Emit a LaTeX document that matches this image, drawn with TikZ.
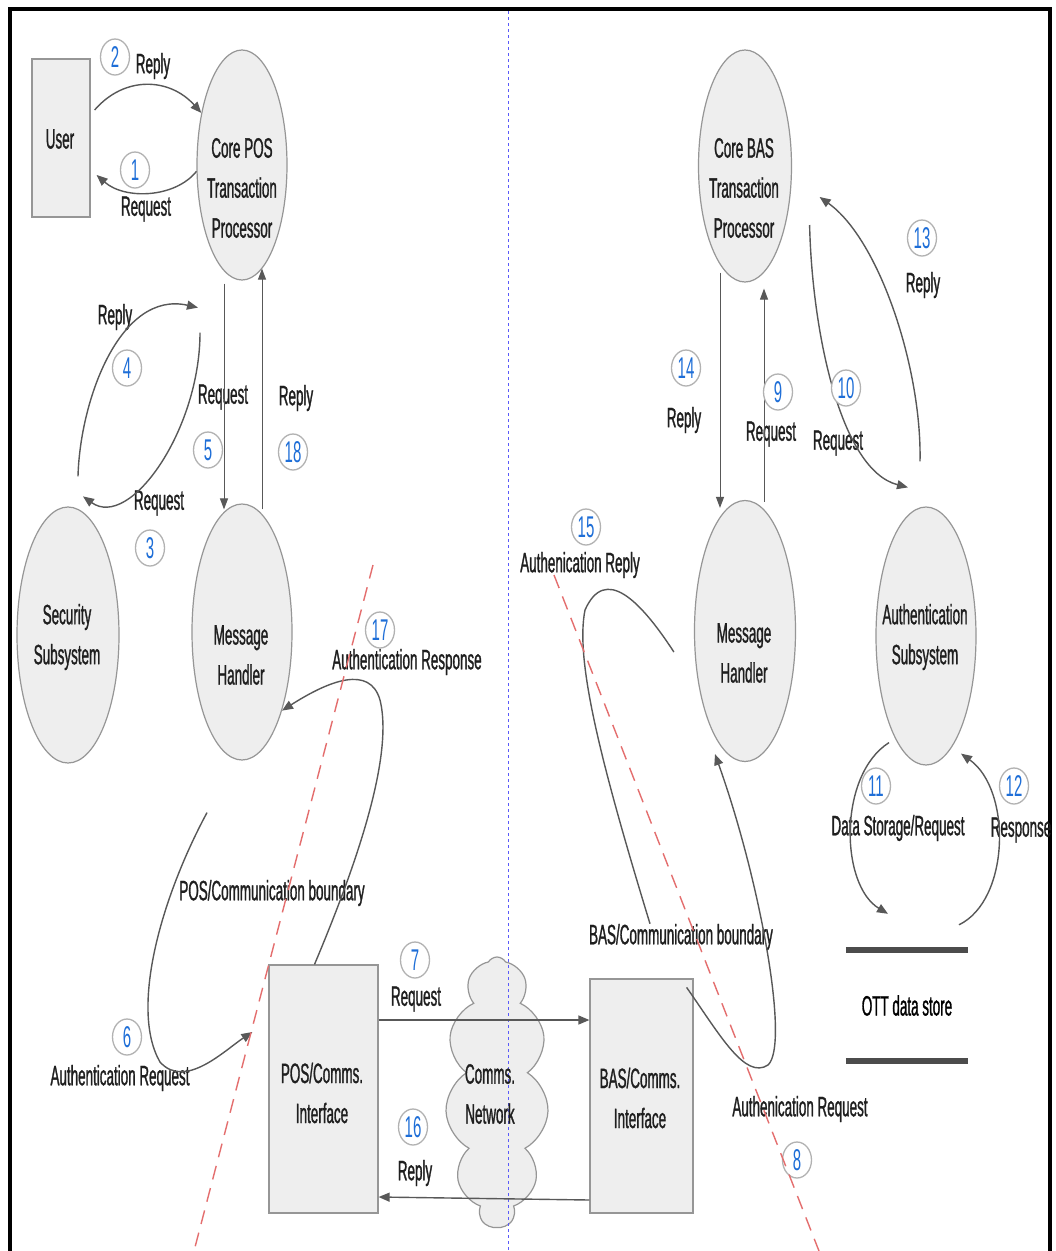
\documentclass[tikz,border=0pt]{standalone}
\usepackage{fontspec}
\setmainfont{Liberation Sans}[FakeStretch=0.48, FakeBold=1]
\newfontfamily\numfam{Liberation Sans}[FakeStretch=0.5]
\usetikzlibrary{arrows.meta,shapes.geometric,shapes.symbols}
\definecolor{linegray}{RGB}{88,88,88}
\definecolor{shapefill}{RGB}{238,238,238}
\definecolor{shapeedge}{RGB}{150,150,150}
\definecolor{numblue}{RGB}{30,110,215}
\definecolor{bounddash}{RGB}{228,110,110}
\definecolor{dividerblue}{RGB}{90,90,250}
\newcommand\lblfont{\fontsize{28pt}{40pt}\selectfont}
\newcommand\numfont{\numfam\fontsize{30pt}{32pt}\selectfont}

\begin{document}
\begin{tikzpicture}[x=1pt,y=-1pt,
  proc/.style={ellipse, draw=shapeedge, fill=shapefill, line width=1.2pt, inner sep=0pt},
  box/.style={rectangle, draw=shapeedge, fill=shapefill, line width=1.2pt, inner sep=0pt},
  lbl/.style={inner sep=0pt, font=\lblfont, text=black!88, align=center},
  seqno/.style={ellipse, draw=black!30, fill=white, line width=1.3pt, minimum width=29pt,
    minimum height=36pt, inner sep=0pt, font=\numfont, text=numblue},
  flow/.style={draw=linegray, line width=1.4pt, -{Triangle[length=11pt,width=9pt]}},
  thinflow/.style={draw=linegray, line width=1pt, -{Triangle[length=11pt,width=8pt]}},
  noarrow/.style={draw=linegray, line width=1.4pt},
  boundary/.style={draw=bounddash, line width=1.4pt, dash pattern=on 14pt off 9pt},
  storeline/.style={draw=black!70, line width=6pt}]

\useasboundingbox (0,0) rectangle (1056,1251);
\fill[white] (0,0) rectangle (1056,1251);

% outer frame (open at the bottom)
\draw[line width=4pt] (10,1251) -- (10,9) -- (1050,9) -- (1050,1251);

% processes
\node[proc, minimum width=90pt,  minimum height=230pt] (corepos)  at (242,165) {};
\node[proc, minimum width=102pt, minimum height=256pt] (security) at (68,635) {};
\node[proc, minimum width=100pt, minimum height=256pt] (mhpos)    at (242,632) {};
\node[proc, minimum width=93pt,  minimum height=232pt] (corebas)  at (745,166) {};
\node[proc, minimum width=101pt, minimum height=261pt] (mhbas)    at (745,631) {};
\node[proc, minimum width=100pt, minimum height=258pt] (authsub)  at (926,636) {};

% external entities and interfaces
\node[box, minimum width=58pt,  minimum height=158pt] (user)     at (61,138) {};
\node[box, minimum width=109pt, minimum height=248pt] (poscomms) at (323.5,1089) {};
\node[box, minimum width=103pt, minimum height=234pt] (bascomms) at (641.5,1096) {};
\node[cloud, cloud puffs=11, cloud puff arc=120, cloud ignores aspect, draw=shapeedge,
      fill=shapefill, line width=1.2pt, minimum width=103pt, minimum height=270pt,
      inner sep=0pt] (net) at (497,1092) {};

% data store
\node[inner sep=0pt, minimum width=122pt, minimum height=111pt, font=\lblfont] (ott) at (907,1005.5) {OTT data store};
\draw[storeline] (ott.north west) -- (ott.north east);
\draw[storeline] (ott.south west) -- (ott.south east);

% divider between the two sites
\draw[dividerblue, line width=1pt, dash pattern=on 3pt off 3pt] (508,11) -- (508,1251);

% shape texts
\node[lbl] (t-user)     at (60,139)  {User};
\node[lbl] (t-corepos)  at (242,188) {Core POS\\Transaction\\Processor};
\node[lbl] (t-security) at (67,637)  {Security\\Subsystem};
\node[lbl] (t-mhpos)    at (241,655) {Message\\Handler};
\node[lbl] (t-poscomms) at (322,1093) {POS/Comms.\\Interface};
\node[lbl] (t-net)      at (490,1094) {Comms.\\Network};
\node[lbl] (t-bascomms) at (640,1098) {BAS/Comms.\\Interface};
\node[lbl] (t-corebas)  at (744,188) {Core BAS\\Transaction\\Processor};
\node[lbl] (t-mhbas)    at (744,653) {Message\\Handler};
\node[lbl] (t-authsub)  at (925,637) {Authentication\\Subsystem};

% flow labels
\node[lbl] (l2)  at (153,66)   {Reply};
\node[lbl] (l1)  at (146,209)  {Request};
\node[lbl] (l4)  at (115,317)  {Reply};
\node[lbl] (l3)  at (159,503)  {Request};
\node[lbl] (l5)  at (223,397)  {Request};
\node[lbl] (l18) at (296,398)  {Reply};
\node[lbl] (l17) at (407,662)  {Authentication Response};
\node[lbl] (posbound) at (272,893) {POS/Communication boundary};
\node[lbl] (l6)  at (120,1078) {Authentication Request};
\node[lbl] (l7)  at (416,999)  {Request};
\node[lbl] (l16) at (415,1173) {Reply};
\node[lbl] (l8)  at (800,1109) {Authenication Request};
\node[lbl] (basbound) at (681,937) {BAS/Communication boundary};
\node[lbl] (l11) at (898,828)  {Data Storage/Request};
\node[lbl] (l12) at (1021,830) {Response};
\node[lbl] (l13) at (923,285)  {Reply};
\node[lbl] (l14) at (684,420)  {Reply};
\node[lbl] (l9)  at (771,434)  {Request};
\node[lbl] (l10) at (838,443)  {Request};
\node[lbl] (l15) at (580,565)  {Authenication Reply};

% user <-> core POS
\draw[flow] ([shift={(4pt,28pt)}]user.east) .. controls (125,75) and (170,78) .. (corepos.128);
\draw[flow] (corepos.188) .. controls (175,198) and (125,200) .. ([shift={(6pt,-37pt)}]user.east);

% core POS <-> security subsystem
\draw[flow] ([shift={(10pt,30pt)}]security.north) .. controls (80,400) and (120,290) .. ([shift={(-44pt,-27pt)}]corepos.south);
\draw[flow] ([shift={(-42pt,-52pt)}]corepos.south) .. controls (200,430) and (130,530) .. ([shift={(15pt,10pt)}]security.north);

% core POS <-> message handler
\draw[thinflow] ([shift={(-18pt,-3pt)}]corepos.south) -- ([shift={(-18pt,-6pt)}]mhpos.north);
\draw[thinflow] ([shift={(20pt,-6pt)}]mhpos.north) -- ([shift={(20pt,12pt)}]corepos.south);

% message handler <-> POS comms interface
\draw[flow] ([xshift=-9pt]poscomms.north) .. controls (350,880) and (395,760) .. (380,700)
            .. controls (370,665) and (330,680) .. (mhpos.-63);
\draw[flow] ([shift={(-35pt,-52pt)}]mhpos.south) .. controls (160,900) and (130,1010) .. (160,1062)
            .. controls (185,1090) and (225,1050) .. ([shift={(-16pt,57pt)}]poscomms.west);

% across the network
\draw[flow] ([yshift=69pt]poscomms.east) -- ([yshift=69pt]poscomms.east -| bascomms.west);
\draw[flow] ([yshift=-104pt]bascomms.west) -- ([yshift=-108pt]poscomms.east);

% BAS comms interface <-> message handler
\draw[flow] ([shift={(-7pt,-9pt)}]bascomms.north east) .. controls (720,1035) and (745,1080) .. (768,1065)
            .. controls (790,1045) and (760,880) .. ([shift={(-30pt,8pt)}]mhbas.south);
\draw[noarrow] ([shift={(-20pt,-21pt)}]mhbas.west) .. controls (640,600) and (605,565) .. (585,610)
            .. controls (575,660) and (600,760) .. ([xshift=-31pt]basbound.north);

% message handler <-> core BAS
\draw[thinflow] ([shift={(-25pt,10pt)}]corebas.south) -- ([shift={(-25pt,-8pt)}]mhbas.north);
\draw[thinflow] ([shift={(19pt,-2pt)}]mhbas.north) -- ([shift={(19pt,-6pt)}]corebas.south);

% core BAS <-> authentication subsystem
\draw[flow] ([shift={(17.5pt,-59pt)}]corebas.east) .. controls (812,330) and (840,470) .. ([shift={(-18pt,19pt)}]authsub.north);
\draw[flow] ([shift={(-6pt,45pt)}]authsub.north) .. controls (922,370) and (880,240) .. ([shift={(27.5pt,-31pt)}]corebas.east);

% authentication subsystem <-> data store
\draw[flow] ([shift={(-37pt,23pt)}]authsub.south) .. controls (838,775) and (840,885) .. ([shift={(-19pt,36pt)}]ott.north);
\draw[flow] ([shift={(52pt,25pt)}]ott.north) .. controls (1010,900) and (1012,790) .. ([shift={(35pt,12pt)}]authsub.south);

% sequence numbers
\node[seqno] (n1)  at (135,170)  {1};
\node[seqno] (n2)  at (115,57)   {2};
\node[seqno] (n3)  at (150,548)  {3};
\node[seqno] (n4)  at (127,368)  {4};
\node[seqno] (n5)  at (208,450)  {5};
\node[seqno] (n6)  at (127,1037) {6};
\node[seqno] (n7)  at (415,960)  {7};
\node[seqno] (n8)  at (797,1160) {8};
\node[seqno] (n9)  at (778,392)  {9};
\node[seqno] (n10) at (846,388)  {10};
\node[seqno] (n11) at (876,786)  {11};
\node[seqno] (n12) at (1014,786) {12};
\node[seqno] (n13) at (922,238)  {13};
\node[seqno] (n14) at (686,368)  {14};
\node[seqno] (n15) at (586,527)  {15};
\node[seqno] (n16) at (413,1127) {16};
\node[seqno] (n17) at (380,630)  {17};
\node[seqno] (n18) at (293,452)  {18};

% trust boundaries
\draw[boundary] (373,565) -- (194,1251);
\draw[boundary] (554,575) -- (819,1251);

\end{tikzpicture}
\end{document}
